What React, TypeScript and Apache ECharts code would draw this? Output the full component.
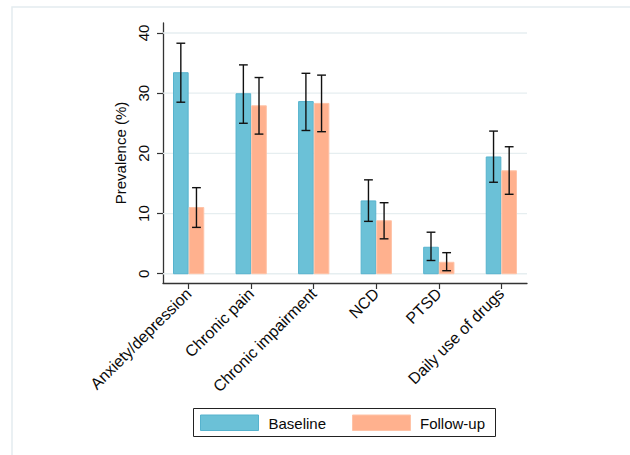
import React, { useEffect, useRef } from "react";
import * as echarts from "echarts";

const categories = [
  "Anxiety/depression",
  "Chronic pain",
  "Chronic impairment",
  "NCD",
  "PTSD",
  "Daily use of drugs",
];
const seriesNames = ["Baseline", "Follow-up"];
const baseline = [33.4, 29.9, 28.6, 12.1, 4.4, 19.4];
const baselineLo = [28.5, 25.0, 23.8, 8.7, 2.2, 15.2];
const baselineHi = [38.3, 34.7, 33.3, 15.6, 6.9, 23.7];
const followUp = [11.0, 27.9, 28.3, 8.8, 1.9, 17.1];
const followUpLo = [7.7, 23.2, 23.6, 5.8, 0.5, 13.2];
const followUpHi = [14.3, 32.6, 33.0, 11.8, 3.5, 21.1];
const yTicks = [0, 10, 20, 30, 40];
const xTicks = [0, 1, 2, 3, 4, 5];

const FONT = "'Liberation Sans', Arial, Helvetica, sans-serif";
const X_MIN = -0.41;
const X_MAX = 5.41;
const Y_MIN = -1.54;
const Y_MAX = 41.66;

const COLORS = {
  baseFill: "#6bc1d7",
  baseStroke: "#56b3ce",
  followFill: "#ffb18e",
  followStroke: "#ffc3a7",
  grid: "#e6eef0",
  axis: "#333333",
  text: "#0a0a0a",
};

function barRender(x0: number, x1: number, fill: string, stroke: string) {
  return (params: any, api: any) => {
    const i = api.value(0);
    const v = api.value(1);
    const lo = api.value(2);
    const hi = api.value(3);
    const p1 = api.coord([i + x0, v]);
    const p2 = api.coord([i + x1, 0]);
    const cx = api.coord([i + (x0 + x1) / 2, 0])[0];
    const yl = api.coord([i, lo])[1];
    const yh = api.coord([i, hi])[1];
    const cap = 4.4;
    const errStyle = { stroke: "#111111", lineWidth: 1.4 };
    return {
      type: "group",
      children: [
        {
          type: "rect",
          shape: { x: p1[0] + 0.5, y: p1[1], width: p2[0] - p1[0] - 1, height: p2[1] - p1[1] },
          style: { fill, stroke, lineWidth: 1 },
        },
        { type: "line", shape: { x1: cx, y1: yl, x2: cx, y2: yh }, style: errStyle },
        { type: "line", shape: { x1: cx - cap, y1: yh, x2: cx + cap, y2: yh }, style: errStyle },
        { type: "line", shape: { x1: cx - cap, y1: yl, x2: cx + cap, y2: yl }, style: errStyle },
      ],
    };
  };
}

export default function App() {
  const ref = useRef<HTMLDivElement>(null);
  useEffect(() => {
    if (!ref.current) return;
    const chart = echarts.init(ref.current, null, { renderer: "svg" });
    const baseData = categories.map((_, i) => [i, baseline[i], baselineLo[i], baselineHi[i]]);
    const followData = categories.map((_, i) => [i, followUp[i], followUpLo[i], followUpHi[i]]);
    const option: any = {
      animation: false,
      backgroundColor: "#ffffff",
      textStyle: { fontFamily: FONT },
      grid: { left: 163, right: 103, top: 23, bottom: 172, containLabel: false },
      xAxis: {
        type: "value",
        min: X_MIN,
        max: X_MAX,
        splitLine: { show: false },
        axisLine: { show: true, onZero: false, lineStyle: { color: COLORS.axis, width: 1.3 } },
        axisTick: {
          show: true,
          customValues: xTicks,
          length: 6,
          lineStyle: { color: COLORS.axis, width: 1.2 },
        },
        axisLabel: {
          customValues: xTicks,
          rotate: 45,
          margin: 8,
          fontSize: 16,
          color: COLORS.text,
          fontFamily: FONT,
          formatter: (v: number) => categories[Math.round(v)] ?? "",
        },
      },
      yAxis: {
        type: "value",
        min: Y_MIN,
        max: Y_MAX,
        name: "Prevalence (%)",
        nameLocation: "middle",
        nameGap: 27,
        nameRotate: 90,
        nameTextStyle: { fontSize: 15, color: COLORS.text, fontFamily: FONT },
        splitLine: { show: false },
        axisLine: { show: true, onZero: false, lineStyle: { color: COLORS.axis, width: 1.3 } },
        axisTick: {
          show: true,
          customValues: yTicks,
          length: 6,
          lineStyle: { color: COLORS.axis, width: 1.2 },
        },
        axisLabel: {
          customValues: yTicks,
          rotate: 90,
          margin: 12,
          fontSize: 15,
          color: COLORS.text,
          fontFamily: FONT,
        },
      },
      series: [
        {
          type: "custom",
          name: "gridlines",
          silent: true,
          z: 1,
          data: yTicks.map((v) => [v]),
          renderItem: (params: any, api: any) => {
            const v = api.value(0);
            const a = api.coord([X_MIN, v]);
            const b = api.coord([X_MAX, v]);
            return {
              type: "line",
              shape: { x1: a[0], y1: a[1], x2: b[0], y2: b[1] },
              style: { stroke: COLORS.grid, lineWidth: 1.3 },
            };
          },
        },
        {
          type: "custom",
          name: seriesNames[0],
          z: 2,
          data: baseData,
          renderItem: barRender(-0.25, 0, COLORS.baseFill, COLORS.baseStroke),
        },
        {
          type: "custom",
          name: seriesNames[1],
          z: 2,
          data: followData,
          renderItem: barRender(0, 0.25, COLORS.followFill, COLORS.followStroke),
        },
      ],
      graphic: [
        {
          type: "rect",
          silent: true,
          shape: { x: 12, y: 7, width: 640, height: 470 },
          style: { fill: "none", stroke: "#e4ecef", lineWidth: 1.5 },
        },
        {
          type: "rect",
          shape: { x: 193.5, y: 408.5, width: 302, height: 28 },
          style: { fill: "#ffffff", stroke: "#222222", lineWidth: 1 },
        },
        {
          type: "rect",
          shape: { x: 200.5, y: 415, width: 58, height: 15.5 },
          style: { fill: COLORS.baseFill, stroke: COLORS.baseStroke, lineWidth: 1 },
        },
        {
          type: "text",
          x: 268.5,
          y: 423,
          style: {
            text: seriesNames[0],
            fontSize: 15,
            fontFamily: FONT,
            fill: COLORS.text,
            verticalAlign: "middle",
          },
        },
        {
          type: "rect",
          shape: { x: 352.5, y: 415, width: 58, height: 15.5 },
          style: { fill: COLORS.followFill, stroke: COLORS.followStroke, lineWidth: 1 },
        },
        {
          type: "text",
          x: 420,
          y: 423,
          style: {
            text: seriesNames[1],
            fontSize: 15,
            fontFamily: FONT,
            fill: COLORS.text,
            verticalAlign: "middle",
          },
        },
      ],
    };
    chart.setOption(option);
    return () => chart.dispose();
  }, []);
  return (
    <div
      ref={ref}
      style={{ position: "fixed", left: 0, top: 0, width: 630, height: 455 }}
    />
  );
}
